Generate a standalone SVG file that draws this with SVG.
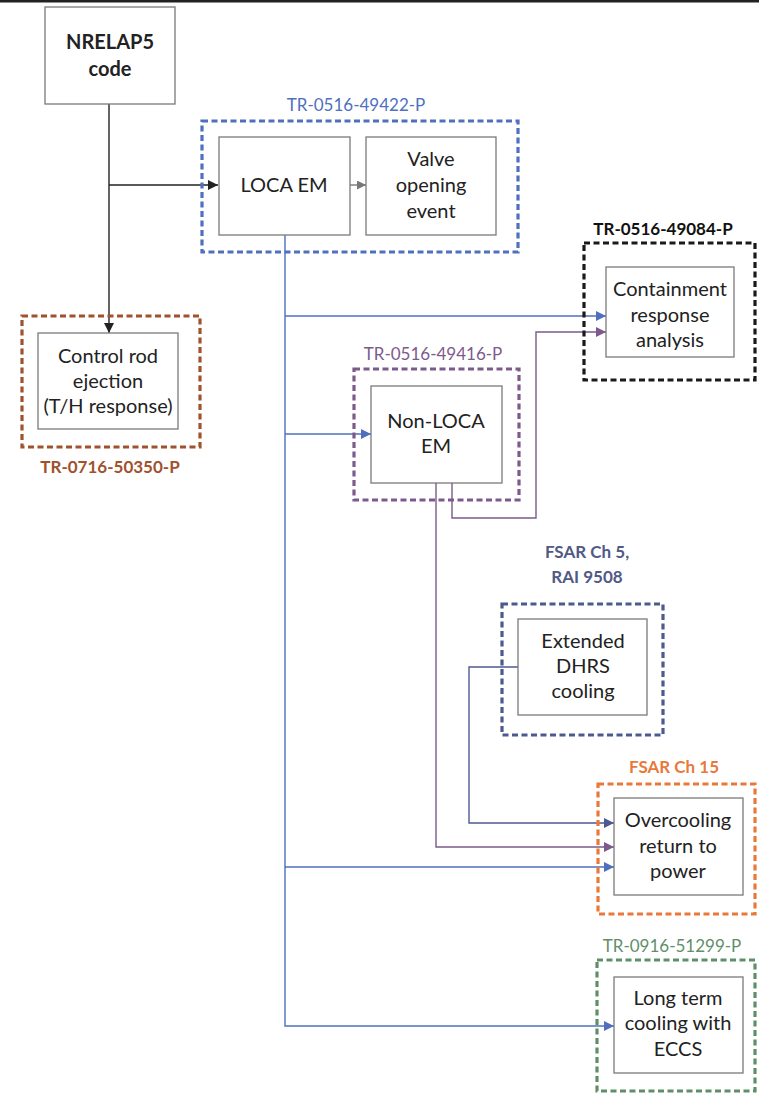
<svg xmlns="http://www.w3.org/2000/svg" width="759" height="1094" viewBox="0 0 759 1094">
<style>
  .box{fill:#fff;stroke:#7a7a7a;stroke-width:1.3}
  .t{font-family:Lato,"Liberation Sans",sans-serif;font-size:20px;fill:#222;text-anchor:middle}
  .lbl{font-family:Lato,"Liberation Sans",sans-serif;font-size:17px;text-anchor:middle}
  .dash{fill:none;stroke-width:3.2;stroke-dasharray:6 3.5}
  .c{fill:none;stroke-width:1.4}
</style>
<defs>
  <marker id="ak" viewBox="0 0 10 10" refX="10" refY="5" markerWidth="10" markerHeight="10" markerUnits="userSpaceOnUse" orient="auto"><path d="M0,0 L10,5 L0,10 z" fill="#222"/></marker>
  <marker id="ag" viewBox="0 0 10 10" refX="10" refY="5" markerWidth="9" markerHeight="9" markerUnits="userSpaceOnUse" orient="auto"><path d="M0,0 L10,5 L0,10 z" fill="#777"/></marker>
  <marker id="ab" viewBox="0 0 10 10" refX="10" refY="5" markerWidth="10" markerHeight="10" markerUnits="userSpaceOnUse" orient="auto"><path d="M0,0 L10,5 L0,10 z" fill="#4f6fbf"/></marker>
  <marker id="ap" viewBox="0 0 10 10" refX="10" refY="5" markerWidth="10" markerHeight="10" markerUnits="userSpaceOnUse" orient="auto"><path d="M0,0 L10,5 L0,10 z" fill="#7d5a8c"/></marker>
  <marker id="ad" viewBox="0 0 10 10" refX="10" refY="5" markerWidth="10" markerHeight="10" markerUnits="userSpaceOnUse" orient="auto"><path d="M0,0 L10,5 L0,10 z" fill="#4d5a90"/></marker>
</defs>
<rect x="0" y="0" width="759" height="1094" fill="#fff"/>
<rect x="0" y="0" width="759" height="2.5" fill="#222"/>

<g id="connectors">
  <path class="c" d="M109,104 V333" stroke="#222" stroke-width="1.8" marker-end="url(#ak)"/>
  <path class="c" d="M109,185 H218" stroke="#222" stroke-width="1.8" marker-end="url(#ak)"/>
  <path class="c" d="M350,185 H366" stroke="#777" marker-end="url(#ag)"/>
  <path class="c" d="M285,235 V1026 H614" stroke="#4f6fbf" marker-end="url(#ab)"/>
  <path class="c" d="M285,316 H606" stroke="#4f6fbf" marker-end="url(#ab)"/>
  <path class="c" d="M285,434 H371" stroke="#4f6fbf" marker-end="url(#ab)"/>
  <path class="c" d="M285,867 H614" stroke="#4f6fbf" marker-end="url(#ab)"/>
  <path class="c" d="M452,483 V518 H536 V332 H606" stroke="#7d5a8c" marker-end="url(#ap)"/>
  <path class="c" d="M436,483 V847 H614" stroke="#7d5a8c" marker-end="url(#ap)"/>
  <path class="c" d="M518,667 H469 V823 H614" stroke="#4d5a90" marker-end="url(#ad)"/>
</g>

<g id="nrelap5">
  <rect class="box" x="45" y="7" width="130" height="97"/>
  <text class="t" x="110" y="49" font-weight="bold">NRELAP5</text>
  <text class="t" x="110" y="76" font-weight="bold">code</text>
</g>

<g id="group-loca">
  <rect class="dash" x="202" y="121" width="316" height="131" stroke="#4f6fbf"/>
  <text class="lbl" x="356" y="111" fill="#4f6fbf">TR-0516-49422-P</text>
</g>
<g id="loca-em">
  <rect class="box" x="219" y="137" width="131" height="98"/>
  <text class="t" x="284" y="192">LOCA EM</text>
</g>
<g id="valve">
  <rect class="box" x="366" y="137" width="130" height="98"/>
  <text class="t" x="431" y="166">Valve</text>
  <text class="t" x="431" y="192">opening</text>
  <text class="t" x="431" y="218">event</text>
</g>

<g id="group-containment">
  <rect class="dash" x="584" y="243" width="171" height="137" stroke="#1a1a1a"/>
  <text class="lbl" x="663" y="235" fill="#111" font-weight="bold">TR-0516-49084-P</text>
</g>
<g id="containment">
  <rect class="box" x="606" y="267" width="128" height="90"/>
  <text class="t" x="670" y="296">Containment</text>
  <text class="t" x="670" y="322">response</text>
  <text class="t" x="670" y="347">analysis</text>
</g>

<g id="group-rod">
  <rect class="dash" x="22" y="316" width="178" height="131" stroke="#a0522d"/>
  <text class="lbl" x="110" y="473" fill="#a0522d" font-weight="bold">TR-0716-50350-P</text>
</g>
<g id="control-rod">
  <rect class="box" x="38" y="333" width="140" height="96"/>
  <text class="t" x="108" y="363">Control rod</text>
  <text class="t" x="108" y="388">ejection</text>
  <text class="t" x="108" y="413">(T/H response)</text>
</g>

<g id="group-nonloca">
  <rect class="dash" x="354" y="369" width="165" height="131" stroke="#7d5a8c"/>
  <text class="lbl" x="433" y="360" fill="#7d5a8c">TR-0516-49416-P</text>
</g>
<g id="non-loca">
  <rect class="box" x="371" y="386" width="131" height="97"/>
  <text class="t" x="436" y="428">Non-LOCA</text>
  <text class="t" x="436" y="453">EM</text>
</g>

<g id="group-dhrs">
  <rect class="dash" x="502" y="604" width="161" height="131" stroke="#4d5a90"/>
  <text class="lbl" x="587" y="558" fill="#505a85" font-weight="bold">FSAR Ch 5,</text>
  <text class="lbl" x="587" y="583" fill="#505a85" font-weight="bold">RAI 9508</text>
</g>
<g id="dhrs">
  <rect class="box" x="518" y="619" width="129" height="96"/>
  <text class="t" x="583" y="648">Extended</text>
  <text class="t" x="583" y="673">DHRS</text>
  <text class="t" x="583" y="698">cooling</text>
</g>

<g id="group-overcooling">
  <rect class="dash" x="598" y="784" width="157" height="130" stroke="#e8793a"/>
  <text class="lbl" x="674" y="773" fill="#e8793a" font-weight="bold">FSAR Ch 15</text>
</g>
<g id="overcooling">
  <rect class="box" x="614" y="798" width="129" height="97"/>
  <text class="t" x="678" y="827">Overcooling</text>
  <text class="t" x="678" y="853">return to</text>
  <text class="t" x="678" y="878">power</text>
</g>

<g id="group-longterm">
  <rect class="dash" x="597" y="960" width="158" height="131" stroke="#5f8f6a"/>
  <text class="lbl" x="672" y="952" fill="#5f8f6a">TR-0916-51299-P</text>
</g>
<g id="long-term">
  <rect class="box" x="614" y="977" width="129" height="96"/>
  <text class="t" x="678" y="1005">Long term</text>
  <text class="t" x="678" y="1030">cooling with</text>
  <text class="t" x="678" y="1056">ECCS</text>
</g>
</svg>
